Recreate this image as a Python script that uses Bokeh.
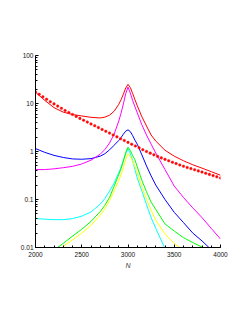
from bokeh.plotting import figure
from bokeh.models import FixedTicker, SingleIntervalTicker, ColumnDataSource
from bokeh.embed import file_html
from bokeh.resources import INLINE

# Frequency grid for the solid curves
N = [2000, 2100, 2200, 2300, 2400, 2500, 2600, 2700, 2750, 2800, 2850, 2900, 2925, 2950, 2975,
     3000, 3025, 3050, 3075, 3100, 3150, 3200, 3250, 3300, 3400, 3500, 3600, 3700, 3800, 3900, 4000]

red = [17.2, 11.6, 8.2, 6.6, 5.9, 5.5, 5.15, 5.0, 5.2, 5.7, 6.9, 9.6, 12.0, 15.6, 21.0,
       25.0, 21.5, 16.2, 12.0, 9.0, 5.3, 3.4, 2.2, 1.65, 1.06, 0.80, 0.64, 0.53, 0.45, 0.38, 0.32]
magenta = [0.42, 0.42, 0.435, 0.46, 0.49, 0.55, 0.66, 0.88, 1.1, 1.5, 2.3, 4.3, 6.3, 9.8, 16.0,
           22.0, 16.5, 11.5, 8.6, 6.4, 3.6, 2.2, 1.42, 0.93, 0.42, 0.19, 0.11, 0.067, 0.042, 0.025, 0.015]
blue = [1.15, 0.96, 0.83, 0.75, 0.70, 0.69, 0.71, 0.80, 0.90, 1.08, 1.35, 1.70, 1.95, 2.3, 2.65,
        2.83, 2.6, 2.15, 1.72, 1.42, 0.85, 0.50, 0.31, 0.20, 0.10, 0.054, 0.033, 0.020, 0.0137, 0.009, 0.006]
cyan = [0.040, 0.039, 0.038, 0.038, 0.040, 0.045, 0.055, 0.08, 0.105, 0.15, 0.22, 0.36, 0.47, 0.65, 0.9,
        1.14, 0.9, 0.65, 0.42, 0.28, 0.15, 0.078, 0.042, 0.025, 0.0095, 0.004, 0.002, 0.001, 0.0006, 0.0004, 0.0003]
green = [0.004, 0.0065, 0.0088, 0.0122, 0.0172, 0.024, 0.035, 0.056, 0.076, 0.11, 0.19, 0.33, 0.44, 0.63, 0.95,
         1.23, 1.05, 0.82, 0.67, 0.48, 0.25, 0.145, 0.088, 0.062, 0.031, 0.022, 0.016, 0.0127, 0.0102, 0.0082, 0.0066]
yellow = [0.003, 0.0055, 0.0078, 0.0105, 0.0145, 0.020, 0.029, 0.047, 0.064, 0.095, 0.15, 0.25, 0.33, 0.46, 0.68,
          0.90, 0.80, 0.62, 0.48, 0.36, 0.18, 0.10, 0.060, 0.037, 0.019, 0.0122, 0.0085, 0.006, 0.0045, 0.0035, 0.0028]

# Point series (red points)
N_pts = list(range(2000, 4001, 40))
pts = [17.4, 15.5, 13.8, 12.3, 10.9, 9.8, 8.83, 7.94, 7.14, 6.50, 5.92, 5.38, 4.89, 4.48, 4.10, 3.75,
       3.44, 3.15, 2.88, 2.64, 2.42, 2.21, 2.02, 1.85, 1.69, 1.55, 1.42, 1.30, 1.19, 1.09, 1.00, 0.925,
       0.851, 0.791, 0.736, 0.686, 0.640, 0.597, 0.560, 0.525, 0.492, 0.463, 0.440, 0.417, 0.394, 0.373,
       0.352, 0.333, 0.315, 0.297, 0.281]

y_ticks = [0.01, 0.1, 1, 10, 100]
y_tick_labels = ["0.01", "0.1", "1", "10", "100"]
x_label = "N"

p = figure(width=237, height=308, output_backend="svg", toolbar_location=None,
           x_range=(2000, 4000), y_range=(0.01, 100), y_axis_type="log",
           min_border_left=35, min_border_right=17, min_border_top=55, min_border_bottom=61)
p.outline_line_color = None
p.xgrid.visible = False
p.ygrid.visible = False
p.background_fill_color = "white"

src = ColumnDataSource(dict(N=N, red=red, magenta=magenta, blue=blue, cyan=cyan, green=green, yellow=yellow))
for name, col in [("cyan", "#00ffff"), ("yellow", "#ffff00"), ("green", "#00ff00"),
                  ("blue", "#0000ff"), ("magenta", "#ff00ff"), ("red", "#ff0000")]:
    p.line("N", name, source=src, line_color=col, line_width=1)

p.scatter(N_pts, pts, marker="circle", size=2.6, fill_color="#ff0000", line_color="#ff2020",
          line_width=0.5)

minor = [m * 10.0 ** e for e in range(-2, 2) for m in range(2, 10)]
p.yaxis.ticker = FixedTicker(ticks=y_ticks, minor_ticks=minor)
p.yaxis.major_label_overrides = {t: l for t, l in zip(y_ticks, y_tick_labels)}
p.xaxis.ticker = SingleIntervalTicker(interval=500, num_minor_ticks=5)
p.xaxis.axis_label = x_label
p.xaxis.axis_label_text_font_style = "italic"
p.xaxis.axis_label_text_font_size = "7px"
p.xaxis.axis_label_standoff = 2

for ax in (p.xaxis[0], p.yaxis[0]):
    ax.axis_line_color = "black"
    ax.axis_line_width = 1
    ax.major_tick_in = 3
    ax.major_tick_out = 0
    ax.minor_tick_in = 2
    ax.minor_tick_out = 0
    ax.major_tick_line_color = "black"
    ax.minor_tick_line_color = "black"
    ax.major_label_text_font = "Liberation Sans"
    ax.major_label_text_font_size = "6.5px"
    ax.major_label_text_color = "#111111"
    ax.axis_label_text_font = "Liberation Sans"
p.xaxis.major_label_standoff = 4
p.yaxis.major_label_standoff = 2

open("out.html", "w").write(file_html(p, INLINE))
